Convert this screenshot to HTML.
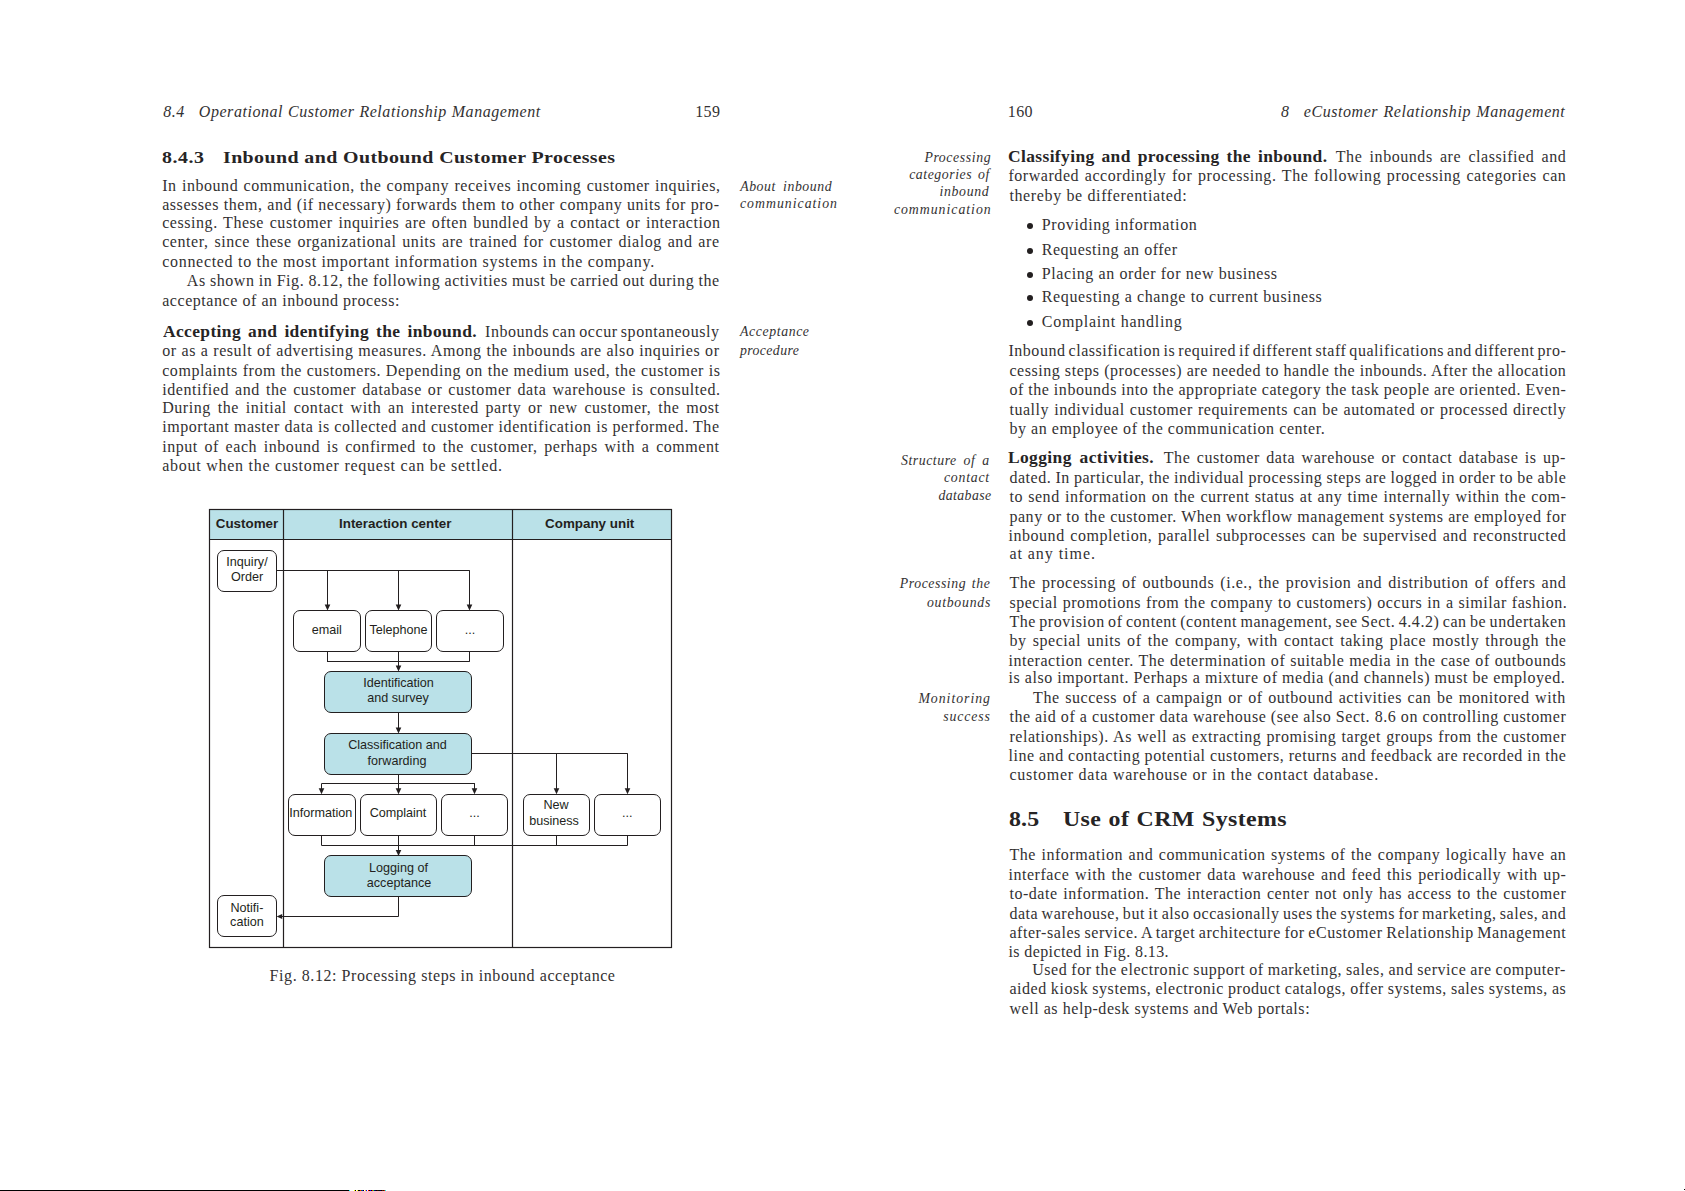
<!DOCTYPE html>
<html><head><meta charset="utf-8"><title>8.4 Operational Customer Relationship Management</title>
<style>
html,body{margin:0;padding:0;background:#fff}
body{width:1685px;height:1191px;position:relative;overflow:hidden;font-family:'Liberation Serif',serif;color:#333132}
.t{position:absolute;white-space:pre}
.it{font-style:italic}
.bf{font-weight:bold;color:#262425}
.rule{position:absolute;height:1px;background:#000}
.bu{position:absolute;width:6.2px;height:6.2px;border-radius:50%;background:#231f20}
</style></head><body>
<div class="t" style="left:163.20px;top:102.00px;font-size:16.0px;line-height:20px;letter-spacing:0.500px"><span class="it">8.4</span></div>
<div class="t" style="left:198.80px;top:102.00px;font-size:16.0px;line-height:20px;letter-spacing:0.550px;word-spacing:0.297px"><span class="it">Operational Customer Relationship Management</span></div>
<div class="t" style="left:695.20px;top:102.00px;font-size:16.0px;line-height:20px;letter-spacing:0.400px">159</div>
<div class="t" style="left:162.20px;top:146.96px;font-size:17px;line-height:21px;letter-spacing:0.474px;transform-origin:0 0;transform:scaleX(1.1700)"><span class="bf">8.4.3</span></div>
<div class="t" style="left:223.20px;top:146.96px;font-size:17px;line-height:21px;letter-spacing:0.350px;word-spacing:0.057px;transform-origin:0 0;transform:scaleX(1.1700)"><span class="bf">Inbound and Outbound Customer Processes</span></div>
<div class="t" style="left:162.20px;top:175.90px;font-size:16.0px;line-height:20px;letter-spacing:0.550px;word-spacing:0.764px">In inbound communication, the company receives incoming customer inquiries,</div>
<div class="t" style="left:162.20px;top:194.70px;font-size:16.0px;line-height:20px;letter-spacing:0.550px;word-spacing:0.208px">assesses them, and (if necessary) forwards them to other company units for pro-</div>
<div class="t" style="left:162.20px;top:212.80px;font-size:16.0px;line-height:20px;letter-spacing:0.550px;word-spacing:1.113px">cessing. These customer inquiries are often bundled by a contact or interaction</div>
<div class="t" style="left:162.20px;top:231.80px;font-size:16.0px;line-height:20px;letter-spacing:0.550px;word-spacing:1.357px">center, since these organizational units are trained for customer dialog and are</div>
<div class="t" style="left:162.20px;top:251.80px;font-size:16.0px;line-height:20px;letter-spacing:0.697px">connected to the most important information systems in the company.</div>
<div class="t" style="left:186.80px;top:270.90px;font-size:16.0px;line-height:20px;letter-spacing:0.550px;word-spacing:-0.251px">As shown in Fig. 8.12, the following activities must be carried out during the</div>
<div class="t" style="left:162.20px;top:291.10px;font-size:16.0px;line-height:20px;letter-spacing:0.554px">acceptance of an inbound process:</div>
<div class="t" style="left:163.20px;top:321.80px;font-size:16.0px;line-height:20px;letter-spacing:0.350px;word-spacing:2.119px;transform-origin:0 0;transform:scaleX(1.0900)"><span class="bf">Accepting and identifying the inbound.</span></div>
<div class="t" style="left:485.00px;top:321.80px;font-size:16.0px;line-height:20px;letter-spacing:0.550px;word-spacing:-1.298px">Inbounds can occur spontaneously</div>
<div class="t" style="left:162.20px;top:340.90px;font-size:16.0px;line-height:20px;letter-spacing:0.550px;word-spacing:0.318px">or as a result of advertising measures. Among the inbounds are also inquiries or</div>
<div class="t" style="left:162.20px;top:360.60px;font-size:16.0px;line-height:20px;letter-spacing:0.550px;word-spacing:0.220px">complaints from the customers. Depending on the medium used, the customer is</div>
<div class="t" style="left:162.20px;top:379.75px;font-size:16.0px;line-height:20px;letter-spacing:0.550px;word-spacing:1.528px">identified and the customer database or customer data warehouse is consulted.</div>
<div class="t" style="left:162.20px;top:397.80px;font-size:16.0px;line-height:20px;letter-spacing:0.550px;word-spacing:2.277px">During the initial contact with an interested party or new customer, the most</div>
<div class="t" style="left:162.20px;top:416.80px;font-size:16.0px;line-height:20px;letter-spacing:0.550px;word-spacing:0.048px">important master data is collected and customer identification is performed. The</div>
<div class="t" style="left:162.20px;top:436.80px;font-size:16.0px;line-height:20px;letter-spacing:0.550px;word-spacing:2.118px">input of each inbound is confirmed to the customer, perhaps with a comment</div>
<div class="t" style="left:162.20px;top:455.90px;font-size:16.0px;line-height:20px;letter-spacing:0.742px">about when the customer request can be settled.</div>
<div class="t" style="left:740.20px;top:177.94px;font-size:13.8px;line-height:17px;letter-spacing:0.550px;word-spacing:3.159px"><span class="it">About inbound</span></div>
<div class="t" style="left:740.00px;top:194.94px;font-size:13.8px;line-height:17px;letter-spacing:0.993px"><span class="it">communication</span></div>
<div class="t" style="left:740.00px;top:323.24px;font-size:13.8px;line-height:17px;letter-spacing:0.602px"><span class="it">Acceptance</span></div>
<div class="t" style="left:740.00px;top:342.24px;font-size:13.8px;line-height:17px;letter-spacing:0.389px"><span class="it">procedure</span></div>
<div class="t" style="left:269.60px;top:965.80px;font-size:16.0px;line-height:20px;letter-spacing:0.567px">Fig. 8.12: Processing steps in inbound acceptance</div>
<div class="t" style="left:1007.80px;top:101.80px;font-size:16.0px;line-height:20px;letter-spacing:0.400px">160</div>
<div class="t" style="left:1281.10px;top:101.80px;font-size:16.0px;line-height:20px;letter-spacing:0.000px"><span class="it">8</span></div>
<div class="t" style="left:1303.80px;top:101.80px;font-size:16.0px;line-height:20px;letter-spacing:0.550px;word-spacing:0.825px"><span class="it">eCustomer Relationship Management</span></div>
<div class="t" style="left:1008.40px;top:147.00px;font-size:16.0px;line-height:20px;letter-spacing:0.350px;word-spacing:2.004px;transform-origin:0 0;transform:scaleX(1.0900)"><span class="bf">Classifying and processing the inbound.</span></div>
<div class="t" style="left:1335.80px;top:147.00px;font-size:16.0px;line-height:20px;letter-spacing:0.550px;word-spacing:2.723px">The inbounds are classified and</div>
<div class="t" style="left:1008.40px;top:447.80px;font-size:16.0px;line-height:20px;letter-spacing:0.350px;word-spacing:2.840px;transform-origin:0 0;transform:scaleX(1.0900)"><span class="bf">Logging activities.</span></div>
<div class="t" style="left:1163.80px;top:447.80px;font-size:16.0px;line-height:20px;letter-spacing:0.550px;word-spacing:1.908px">The customer data warehouse or contact database is up-</div>
<div class="t" style="left:1008.40px;top:165.80px;font-size:16.0px;line-height:20px;letter-spacing:0.550px;word-spacing:1.120px">forwarded accordingly for processing. The following processing categories can</div>
<div class="t" style="left:1009.40px;top:185.80px;font-size:16.0px;line-height:20px;letter-spacing:0.632px">thereby be differentiated:</div>
<div class="t" style="left:1008.40px;top:340.90px;font-size:16.0px;line-height:20px;letter-spacing:0.550px;word-spacing:-1.596px">Inbound classification is required if different staff qualifications and different pro-</div>
<div class="t" style="left:1009.40px;top:360.90px;font-size:16.0px;line-height:20px;letter-spacing:0.550px;word-spacing:-0.030px">cessing steps (processes) are needed to handle the inbounds. After the allocation</div>
<div class="t" style="left:1009.40px;top:379.60px;font-size:16.0px;line-height:20px;letter-spacing:0.550px;word-spacing:-0.137px">of the inbounds into the appropriate category the task people are oriented. Even-</div>
<div class="t" style="left:1009.40px;top:399.80px;font-size:16.0px;line-height:20px;letter-spacing:0.550px;word-spacing:0.592px">tually individual customer requirements can be automated or processed directly</div>
<div class="t" style="left:1009.40px;top:418.80px;font-size:16.0px;line-height:20px;letter-spacing:0.559px">by an employee of the communication center.</div>
<div class="t" style="left:1009.40px;top:468.00px;font-size:16.0px;line-height:20px;letter-spacing:0.550px;word-spacing:-0.478px">dated. In particular, the individual processing steps are logged in order to be able</div>
<div class="t" style="left:1009.40px;top:486.90px;font-size:16.0px;line-height:20px;letter-spacing:0.550px;word-spacing:0.663px">to send information on the current status at any time internally within the com-</div>
<div class="t" style="left:1009.40px;top:506.80px;font-size:16.0px;line-height:20px;letter-spacing:0.550px;word-spacing:0.021px">pany or to the customer. When workflow management systems are employed for</div>
<div class="t" style="left:1008.40px;top:525.90px;font-size:16.0px;line-height:20px;letter-spacing:0.550px;word-spacing:1.081px">inbound completion, parallel subprocesses can be supervised and reconstructed</div>
<div class="t" style="left:1009.40px;top:543.90px;font-size:16.0px;line-height:20px;letter-spacing:0.955px">at any time.</div>
<div class="t" style="left:1009.40px;top:572.80px;font-size:16.0px;line-height:20px;letter-spacing:0.550px;word-spacing:1.544px">The processing of outbounds (i.e., the provision and distribution of offers and</div>
<div class="t" style="left:1009.40px;top:592.70px;font-size:16.0px;line-height:20px;letter-spacing:0.550px;word-spacing:0.449px">special promotions from the company to customers) occurs in a similar fashion.</div>
<div class="t" style="left:1009.40px;top:611.60px;font-size:16.0px;line-height:20px;letter-spacing:0.550px;word-spacing:-1.164px">The provision of content (content management, see Sect. 4.4.2) can be undertaken</div>
<div class="t" style="left:1009.40px;top:630.90px;font-size:16.0px;line-height:20px;letter-spacing:0.550px;word-spacing:1.609px">by special units of the company, with contact taking place mostly through the</div>
<div class="t" style="left:1008.40px;top:650.80px;font-size:16.0px;line-height:20px;letter-spacing:0.550px;word-spacing:0.380px">interaction center. The determination of suitable media in the case of outbounds</div>
<div class="t" style="left:1008.40px;top:668.00px;font-size:16.0px;line-height:20px;letter-spacing:0.555px">is also important. Perhaps a mixture of media (and channels) must be employed.</div>
<div class="t" style="left:1033.10px;top:687.80px;font-size:16.0px;line-height:20px;letter-spacing:0.550px;word-spacing:1.053px">The success of a campaign or of outbound activities can be monitored with</div>
<div class="t" style="left:1009.40px;top:707.40px;font-size:16.0px;line-height:20px;letter-spacing:0.550px;word-spacing:-0.018px">the aid of a customer data warehouse (see also Sect. 8.6 on controlling customer</div>
<div class="t" style="left:1009.40px;top:726.70px;font-size:16.0px;line-height:20px;letter-spacing:0.550px;word-spacing:0.678px">relationships). As well as extracting promising target groups from the customer</div>
<div class="t" style="left:1008.40px;top:745.80px;font-size:16.0px;line-height:20px;letter-spacing:0.550px;word-spacing:-0.177px">line and contacting potential customers, returns and feedback are recorded in the</div>
<div class="t" style="left:1009.40px;top:765.00px;font-size:16.0px;line-height:20px;letter-spacing:0.730px">customer data warehouse or in the contact database.</div>
<div class="t" style="left:1009.40px;top:844.80px;font-size:16.0px;line-height:20px;letter-spacing:0.550px;word-spacing:0.972px">The information and communication systems of the company logically have an</div>
<div class="t" style="left:1008.40px;top:864.90px;font-size:16.0px;line-height:20px;letter-spacing:0.550px;word-spacing:1.223px">interface with the customer data warehouse and feed this periodically with up-</div>
<div class="t" style="left:1009.40px;top:884.00px;font-size:16.0px;line-height:20px;letter-spacing:0.550px;word-spacing:1.067px">to-date information. The interaction center not only has access to the customer</div>
<div class="t" style="left:1009.40px;top:903.80px;font-size:16.0px;line-height:20px;letter-spacing:0.550px;word-spacing:-1.195px">data warehouse, but it also occasionally uses the systems for marketing, sales, and</div>
<div class="t" style="left:1009.40px;top:922.70px;font-size:16.0px;line-height:20px;letter-spacing:0.550px;word-spacing:-0.948px">after-sales service. A target architecture for eCustomer Relationship Management</div>
<div class="t" style="left:1008.40px;top:941.70px;font-size:16.0px;line-height:20px;letter-spacing:0.398px">is depicted in Fig. 8.13.</div>
<div class="t" style="left:1032.20px;top:959.80px;font-size:16.0px;line-height:20px;letter-spacing:0.550px;word-spacing:-0.543px">Used for the electronic support of marketing, sales, and service are computer-</div>
<div class="t" style="left:1009.40px;top:978.90px;font-size:16.0px;line-height:20px;letter-spacing:0.550px;word-spacing:-0.509px">aided kiosk systems, electronic product catalogs, offer systems, sales systems, as</div>
<div class="t" style="left:1009.40px;top:998.80px;font-size:16.0px;line-height:20px;letter-spacing:0.554px">well as help-desk systems and Web portals:</div>
<div class="t" style="left:1041.80px;top:214.90px;font-size:16.0px;line-height:20px;letter-spacing:0.617px">Providing information</div>
<div class="t" style="left:1041.80px;top:239.80px;font-size:16.0px;line-height:20px;letter-spacing:0.517px">Requesting an offer</div>
<div class="t" style="left:1041.80px;top:263.80px;font-size:16.0px;line-height:20px;letter-spacing:0.591px">Placing an order for new business</div>
<div class="t" style="left:1041.80px;top:286.70px;font-size:16.0px;line-height:20px;letter-spacing:0.622px">Requesting a change to current business</div>
<div class="t" style="left:1041.80px;top:311.70px;font-size:16.0px;line-height:20px;letter-spacing:0.733px">Complaint handling</div>
<div class="t" style="left:1008.80px;top:805.85px;font-size:21.5px;line-height:27px;letter-spacing:0.121px;transform-origin:0 0;transform:scaleX(1.1100)"><span class="bf">8.5</span></div>
<div class="t" style="left:1063.00px;top:805.85px;font-size:21.5px;line-height:27px;letter-spacing:0.350px;word-spacing:0.872px;transform-origin:0 0;transform:scaleX(1.1100)"><span class="bf">Use of CRM Systems</span></div>
<div class="t" style="left:924.40px;top:149.04px;font-size:13.8px;line-height:17px;letter-spacing:0.599px"><span class="it">Processing</span></div>
<div class="t" style="left:909.20px;top:166.14px;font-size:13.8px;line-height:17px;letter-spacing:0.550px;word-spacing:1.944px"><span class="it">categories of</span></div>
<div class="t" style="left:939.60px;top:182.94px;font-size:13.8px;line-height:17px;letter-spacing:0.628px"><span class="it">inbound</span></div>
<div class="t" style="left:893.90px;top:200.84px;font-size:13.8px;line-height:17px;letter-spacing:0.977px"><span class="it">communication</span></div>
<div class="t" style="left:901.00px;top:452.04px;font-size:13.8px;line-height:17px;letter-spacing:0.550px;word-spacing:2.788px"><span class="it">Structure of a</span></div>
<div class="t" style="left:944.00px;top:469.14px;font-size:13.8px;line-height:17px;letter-spacing:0.748px"><span class="it">contact</span></div>
<div class="t" style="left:938.40px;top:486.84px;font-size:13.8px;line-height:17px;letter-spacing:0.425px"><span class="it">database</span></div>
<div class="t" style="left:899.80px;top:575.14px;font-size:13.8px;line-height:17px;letter-spacing:0.550px;word-spacing:1.741px"><span class="it">Processing the</span></div>
<div class="t" style="left:926.90px;top:593.84px;font-size:13.8px;line-height:17px;letter-spacing:0.738px"><span class="it">outbounds</span></div>
<div class="t" style="left:918.40px;top:690.04px;font-size:13.8px;line-height:17px;letter-spacing:0.971px"><span class="it">Monitoring</span></div>
<div class="t" style="left:943.20px;top:707.54px;font-size:13.8px;line-height:17px;letter-spacing:0.885px"><span class="it">success</span></div>
<svg style="position:absolute;left:0;top:0" width="1685" height="1191" viewBox="0 0 1685 1191"><rect x="209.50" y="509.50" width="462.00" height="30.00" rx="0" ry="0" fill="#bae1e8" stroke="#231f20" stroke-width="0"/><rect x="209.50" y="509.50" width="462.00" height="438.00" rx="0" ry="0" fill="none" stroke="#231f20" stroke-width="1.2"/><line x1="209.50" y1="539.50" x2="671.50" y2="539.50" stroke="#231f20" stroke-width="1.2"/><line x1="283.50" y1="509.50" x2="283.50" y2="947.50" stroke="#231f20" stroke-width="1.2"/><line x1="512.50" y1="509.50" x2="512.50" y2="947.50" stroke="#231f20" stroke-width="1.2"/><text x="247.00" y="527.80" text-anchor="middle" font-family="Liberation Sans, sans-serif" font-size="13.4" font-weight="bold" fill="#231f20">Customer</text><text x="395.20" y="527.80" text-anchor="middle" font-family="Liberation Sans, sans-serif" font-size="13.4" font-weight="bold" fill="#231f20">Interaction center</text><text x="589.70" y="527.80" text-anchor="middle" font-family="Liberation Sans, sans-serif" font-size="13.4" font-weight="bold" fill="#231f20">Company unit</text><line x1="276.80" y1="570.50" x2="469.40" y2="570.50" stroke="#231f20" stroke-width="1.0"/><line x1="327.50" y1="570.20" x2="327.50" y2="605.00" stroke="#231f20" stroke-width="1.0"/><path d="M324.70,604.60 L330.30,604.60 L327.50,610.60 Z" fill="#231f20"/><line x1="398.50" y1="570.20" x2="398.50" y2="605.00" stroke="#231f20" stroke-width="1.0"/><path d="M395.70,604.60 L401.30,604.60 L398.50,610.60 Z" fill="#231f20"/><line x1="469.50" y1="570.20" x2="469.50" y2="605.00" stroke="#231f20" stroke-width="1.0"/><path d="M466.70,604.60 L472.30,604.60 L469.50,610.60 Z" fill="#231f20"/><line x1="327.50" y1="651.90" x2="327.50" y2="661.80" stroke="#231f20" stroke-width="1.0"/><line x1="469.50" y1="651.90" x2="469.50" y2="661.80" stroke="#231f20" stroke-width="1.0"/><line x1="327.00" y1="661.50" x2="469.40" y2="661.50" stroke="#231f20" stroke-width="1.0"/><line x1="398.50" y1="651.90" x2="398.50" y2="666.00" stroke="#231f20" stroke-width="1.0"/><path d="M395.70,665.60 L401.30,665.60 L398.50,671.60 Z" fill="#231f20"/><line x1="398.50" y1="712.40" x2="398.50" y2="728.00" stroke="#231f20" stroke-width="1.0"/><path d="M395.70,727.50 L401.30,727.50 L398.50,733.50 Z" fill="#231f20"/><line x1="398.50" y1="774.50" x2="398.50" y2="789.00" stroke="#231f20" stroke-width="1.0"/><line x1="321.60" y1="783.50" x2="474.90" y2="783.50" stroke="#231f20" stroke-width="1.0"/><line x1="321.50" y1="783.50" x2="321.50" y2="789.00" stroke="#231f20" stroke-width="1.0"/><path d="M318.70,788.20 L324.30,788.20 L321.50,794.20 Z" fill="#231f20"/><line x1="398.50" y1="783.50" x2="398.50" y2="789.00" stroke="#231f20" stroke-width="1.0"/><path d="M395.70,788.20 L401.30,788.20 L398.50,794.20 Z" fill="#231f20"/><line x1="474.50" y1="783.50" x2="474.50" y2="789.00" stroke="#231f20" stroke-width="1.0"/><path d="M471.70,788.20 L477.30,788.20 L474.50,794.20 Z" fill="#231f20"/><line x1="471.90" y1="753.50" x2="627.50" y2="753.50" stroke="#231f20" stroke-width="1.0"/><line x1="556.50" y1="753.30" x2="556.50" y2="789.00" stroke="#231f20" stroke-width="1.0"/><path d="M553.70,788.20 L559.30,788.20 L556.50,794.20 Z" fill="#231f20"/><line x1="627.50" y1="753.30" x2="627.50" y2="789.00" stroke="#231f20" stroke-width="1.0"/><path d="M624.70,788.20 L630.30,788.20 L627.50,794.20 Z" fill="#231f20"/><line x1="321.50" y1="835.40" x2="321.50" y2="845.50" stroke="#231f20" stroke-width="1.0"/><line x1="474.50" y1="835.40" x2="474.50" y2="845.50" stroke="#231f20" stroke-width="1.0"/><line x1="556.50" y1="835.40" x2="556.50" y2="845.50" stroke="#231f20" stroke-width="1.0"/><line x1="627.50" y1="835.40" x2="627.50" y2="845.50" stroke="#231f20" stroke-width="1.0"/><line x1="321.60" y1="845.50" x2="627.50" y2="845.50" stroke="#231f20" stroke-width="1.0"/><line x1="398.50" y1="835.50" x2="398.50" y2="850.00" stroke="#231f20" stroke-width="1.0"/><path d="M395.70,849.90 L401.30,849.90 L398.50,855.90 Z" fill="#231f20"/><polyline points="398.50,896.50 398.50,916.50 281.50,916.50" fill="none" stroke="#231f20" stroke-width="1.0"/><path d="M282.20,914.00 L282.20,919.00 L276.60,916.50 Z" fill="#231f20"/><rect x="217.50" y="550.50" width="59.00" height="41.00" rx="6.5" ry="6.5" fill="#fff" stroke="#231f20" stroke-width="1.0"/><rect x="293.50" y="610.50" width="67.00" height="41.00" rx="6.5" ry="6.5" fill="#fff" stroke="#231f20" stroke-width="1.0"/><rect x="365.50" y="610.50" width="66.00" height="41.00" rx="6.5" ry="6.5" fill="#fff" stroke="#231f20" stroke-width="1.0"/><rect x="436.50" y="610.50" width="67.00" height="41.00" rx="6.5" ry="6.5" fill="#fff" stroke="#231f20" stroke-width="1.0"/><rect x="324.50" y="671.50" width="147.00" height="41.00" rx="6.5" ry="6.5" fill="#bae1e8" stroke="#231f20" stroke-width="1.0"/><rect x="324.50" y="733.50" width="147.00" height="41.00" rx="6.5" ry="6.5" fill="#bae1e8" stroke="#231f20" stroke-width="1.0"/><rect x="288.50" y="794.50" width="67.00" height="41.00" rx="6.5" ry="6.5" fill="#fff" stroke="#231f20" stroke-width="1.0"/><rect x="360.50" y="794.50" width="76.00" height="41.00" rx="6.5" ry="6.5" fill="#fff" stroke="#231f20" stroke-width="1.0"/><rect x="441.50" y="794.50" width="66.00" height="41.00" rx="6.5" ry="6.5" fill="#fff" stroke="#231f20" stroke-width="1.0"/><rect x="523.50" y="794.50" width="66.00" height="41.00" rx="6.5" ry="6.5" fill="#fff" stroke="#231f20" stroke-width="1.0"/><rect x="594.50" y="794.50" width="66.00" height="41.00" rx="6.5" ry="6.5" fill="#fff" stroke="#231f20" stroke-width="1.0"/><rect x="324.50" y="855.50" width="147.00" height="41.00" rx="6.5" ry="6.5" fill="#bae1e8" stroke="#231f20" stroke-width="1.0"/><rect x="217.50" y="895.50" width="59.00" height="41.00" rx="6.5" ry="6.5" fill="#fff" stroke="#231f20" stroke-width="1.0"/><text x="247.00" y="565.50" text-anchor="middle" font-family="Liberation Sans, sans-serif" font-size="12.6" font-weight="normal" fill="#231f20">Inquiry/</text><text x="247.00" y="581.40" text-anchor="middle" font-family="Liberation Sans, sans-serif" font-size="12.6" font-weight="normal" fill="#231f20">Order</text><text x="326.80" y="633.80" text-anchor="middle" font-family="Liberation Sans, sans-serif" font-size="12.6" font-weight="normal" fill="#231f20">email</text><text x="398.50" y="633.80" text-anchor="middle" font-family="Liberation Sans, sans-serif" font-size="12.6" font-weight="normal" fill="#231f20">Telephone</text><text x="470.00" y="633.80" text-anchor="middle" font-family="Liberation Sans, sans-serif" font-size="12.6" font-weight="normal" fill="#231f20">...</text><text x="398.50" y="686.90" text-anchor="middle" font-family="Liberation Sans, sans-serif" font-size="12.6" font-weight="normal" fill="#231f20">Identification</text><text x="398.00" y="701.50" text-anchor="middle" font-family="Liberation Sans, sans-serif" font-size="12.6" font-weight="normal" fill="#231f20">and survey</text><text x="397.50" y="748.80" text-anchor="middle" font-family="Liberation Sans, sans-serif" font-size="12.6" font-weight="normal" fill="#231f20">Classification and</text><text x="397.00" y="764.60" text-anchor="middle" font-family="Liberation Sans, sans-serif" font-size="12.6" font-weight="normal" fill="#231f20">forwarding</text><text x="320.70" y="816.70" text-anchor="middle" font-family="Liberation Sans, sans-serif" font-size="12.6" font-weight="normal" fill="#231f20">Information</text><text x="398.00" y="816.70" text-anchor="middle" font-family="Liberation Sans, sans-serif" font-size="12.6" font-weight="normal" fill="#231f20">Complaint</text><text x="474.60" y="816.70" text-anchor="middle" font-family="Liberation Sans, sans-serif" font-size="12.6" font-weight="normal" fill="#231f20">...</text><text x="556.00" y="808.50" text-anchor="middle" font-family="Liberation Sans, sans-serif" font-size="12.6" font-weight="normal" fill="#231f20">New</text><text x="554.00" y="824.60" text-anchor="middle" font-family="Liberation Sans, sans-serif" font-size="12.6" font-weight="normal" fill="#231f20">business</text><text x="627.30" y="816.70" text-anchor="middle" font-family="Liberation Sans, sans-serif" font-size="12.6" font-weight="normal" fill="#231f20">...</text><text x="398.50" y="871.90" text-anchor="middle" font-family="Liberation Sans, sans-serif" font-size="12.6" font-weight="normal" fill="#231f20">Logging of</text><text x="399.00" y="886.80" text-anchor="middle" font-family="Liberation Sans, sans-serif" font-size="12.6" font-weight="normal" fill="#231f20">acceptance</text><text x="246.90" y="911.70" text-anchor="middle" font-family="Liberation Sans, sans-serif" font-size="12.6" font-weight="normal" fill="#231f20">Notifi-</text><text x="246.90" y="925.70" text-anchor="middle" font-family="Liberation Sans, sans-serif" font-size="12.6" font-weight="normal" fill="#231f20">cation</text></svg>
<div class="bu" style="left:1027.20px;top:222.90px"></div>
<div class="bu" style="left:1027.20px;top:247.80px"></div>
<div class="bu" style="left:1027.20px;top:271.80px"></div>
<div class="bu" style="left:1027.20px;top:294.70px"></div>
<div class="bu" style="left:1027.20px;top:319.70px"></div>

<div class="rule" style="left:0;top:1190px;width:349px"></div>
<svg style="position:absolute;left:0;top:1190px" width="400" height="1" viewBox="0 0 400 1"><rect x="349" y="0" width="1" height="1" fill="#0ff"/><rect x="354" y="0" width="1" height="1" fill="#ff0"/><rect x="355" y="0" width="1" height="1" fill="#000"/><rect x="357" y="0" width="1" height="1" fill="#ff0"/><rect x="358" y="0" width="1" height="1" fill="#000"/><rect x="359" y="0" width="1" height="1" fill="#000"/><rect x="360" y="0" width="1" height="1" fill="#f00"/><rect x="361" y="0" width="1" height="1" fill="#080"/><rect x="362" y="0" width="1" height="1" fill="#00f"/><rect x="363" y="0" width="1" height="1" fill="#000"/><rect x="365" y="0" width="1" height="1" fill="#fc0"/><rect x="366" y="0" width="1" height="1" fill="#00f"/><rect x="368" y="0" width="1" height="1" fill="#f00"/><rect x="369" y="0" width="1" height="1" fill="#000"/><rect x="370" y="0" width="1" height="1" fill="#00f"/><rect x="371" y="0" width="1" height="1" fill="#000"/><rect x="372" y="0" width="1" height="1" fill="#f00"/><rect x="373" y="0" width="1" height="1" fill="#0f0"/><rect x="374" y="0" width="1" height="1" fill="#008"/><rect x="375" y="0" width="1" height="1" fill="#004"/><rect x="376" y="0" width="1" height="1" fill="#000"/><rect x="377" y="0" width="1" height="1" fill="#400"/><rect x="378" y="0" width="1" height="1" fill="#020"/><rect x="379" y="0" width="1" height="1" fill="#002"/><rect x="380" y="0" width="1" height="1" fill="#004"/><rect x="381" y="0" width="1" height="1" fill="#000"/><rect x="382" y="0" width="1" height="1" fill="#800"/><rect x="383" y="0" width="1" height="1" fill="#040"/><rect x="384" y="0" width="1" height="1" fill="#f00"/><rect x="385" y="0" width="1" height="1" fill="#0ff"/></svg>
<div class="rule" style="left:1684px;top:1189px;width:1px"></div>
</body></html>
